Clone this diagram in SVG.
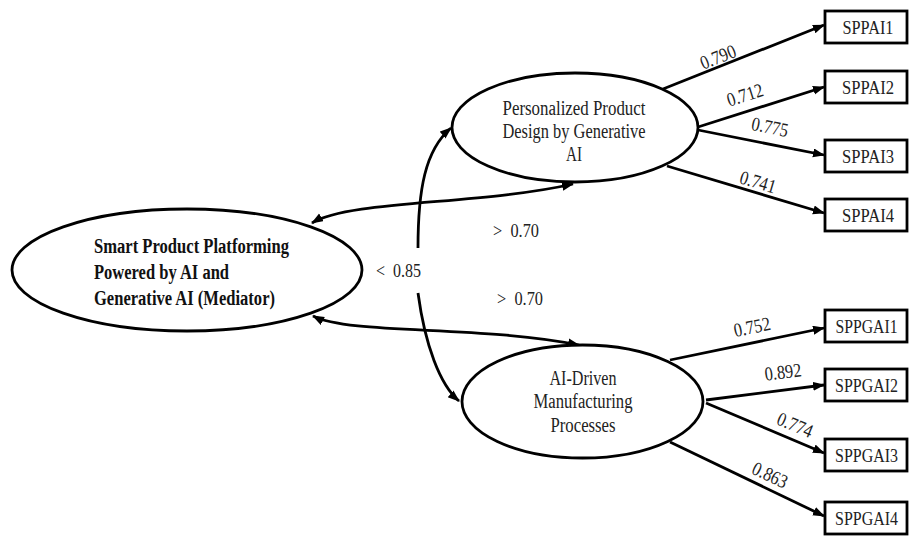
<svg xmlns="http://www.w3.org/2000/svg" width="909" height="536" viewBox="0 0 909 536">
<style>
.sh{fill:#fff;stroke:#000;stroke-width:2.8}
.ln{fill:none;stroke:#000;stroke-width:2.8}
text{font-family:'Liberation Serif','Times New Roman',serif;fill:#222}
.t{font-size:20px}
.n{font-size:19.5px}
.b{font-size:20px;font-weight:bold;fill:#111}
.bx{font-size:19px;text-anchor:middle}
.c{text-anchor:middle}
</style>
<defs>
<marker id="ah" markerUnits="userSpaceOnUse" markerWidth="12" markerHeight="10" refX="11" refY="4.5" orient="auto-start-reverse">
<path d="M0,0 L12,4.5 L0,9 z" fill="#000"/>
</marker>
</defs>
<rect width="909" height="536" fill="#fff"/>
<g id="connectors">
<path class="ln" d="M663,89 L824,25" marker-end="url(#ah)"/>
<path class="ln" d="M698,127 L824,87" marker-end="url(#ah)"/>
<path class="ln" d="M698,130 L824,155" marker-end="url(#ah)"/>
<path class="ln" d="M667,166 L824,213" marker-end="url(#ah)"/>
<path class="ln" d="M670,360 L824,328" marker-end="url(#ah)"/>
<path class="ln" d="M706,400 L824,385" marker-end="url(#ah)"/>
<path class="ln" d="M706,403 L824,453" marker-end="url(#ah)"/>
<path class="ln" d="M670,442 L824,516" marker-end="url(#ah)"/>
<path class="ln" d="M312,223 C350,200 480,205 573,184" marker-start="url(#ah)" marker-end="url(#ah)"/>
<path class="ln" d="M313,316 C350,335 480,325 579,345" marker-start="url(#ah)" marker-end="url(#ah)"/>
<path class="ln" d="M418,248 C418,190 425,150 451,128" marker-end="url(#ah)"/>
<path class="ln" d="M418,293 C425,345 440,385 459,401" marker-end="url(#ah)"/>
<text class="n c" transform="translate(718,57) rotate(-21.6)" y="6.5" textLength="37" lengthAdjust="spacingAndGlyphs">0.790</text>
<text class="n c" transform="translate(745,95) rotate(-17.5)" y="6.5" textLength="37" lengthAdjust="spacingAndGlyphs">0.712</text>
<text class="n c" transform="translate(770,127) rotate(11.5)" y="6.5" textLength="37" lengthAdjust="spacingAndGlyphs">0.775</text>
<text class="n c" transform="translate(758,182) rotate(16.6)" y="6.5" textLength="37" lengthAdjust="spacingAndGlyphs">0.741</text>
<text class="n c" transform="translate(752,327) rotate(-11.7)" y="6.5" textLength="37" lengthAdjust="spacingAndGlyphs">0.752</text>
<text class="n c" transform="translate(783,372) rotate(-7.2)" y="6.5" textLength="37" lengthAdjust="spacingAndGlyphs">0.892</text>
<text class="n c" transform="translate(795,425) rotate(22.8)" y="6.5" textLength="37" lengthAdjust="spacingAndGlyphs">0.774</text>
<text class="n c" transform="translate(770,475) rotate(25.5)" y="6.5" textLength="37" lengthAdjust="spacingAndGlyphs">0.863</text>
<text class="n" x="376" y="277" xml:space="preserve" textLength="45" lengthAdjust="spacingAndGlyphs">&lt;  0.85</text>
<text class="n" x="493" y="237" xml:space="preserve" textLength="46" lengthAdjust="spacingAndGlyphs">&gt;  0.70</text>
<text class="n" x="497" y="305" xml:space="preserve" textLength="46" lengthAdjust="spacingAndGlyphs">&gt;  0.70</text>
</g>
<g id="mediator">
<ellipse class="sh" cx="187" cy="270" rx="175" ry="61"/>
<text class="b" x="94" y="253" textLength="195" lengthAdjust="spacingAndGlyphs">Smart Product Platforming</text>
<text class="b" x="94" y="279" textLength="135" lengthAdjust="spacingAndGlyphs">Powered by AI and</text>
<text class="b" x="94" y="305" textLength="181" lengthAdjust="spacingAndGlyphs">Generative AI (Mediator)</text>
</g>
<g id="personalized">
<ellipse class="sh" cx="575" cy="127.5" rx="123" ry="54.5"/>
<text class="t c" x="574" y="115" textLength="143" lengthAdjust="spacingAndGlyphs">Personalized Product</text>
<text class="t c" x="574" y="138" textLength="143" lengthAdjust="spacingAndGlyphs">Design by Generative</text>
<text class="t c" x="574" y="161" textLength="16" lengthAdjust="spacingAndGlyphs">AI</text>
</g>
<g id="manufacturing">
<ellipse class="sh" cx="582.5" cy="401.5" rx="120.5" ry="56.5"/>
<text class="t c" x="583" y="385" textLength="67" lengthAdjust="spacingAndGlyphs">AI-Driven</text>
<text class="t c" x="583" y="408" textLength="99" lengthAdjust="spacingAndGlyphs">Manufacturing</text>
<text class="t c" x="583" y="432" textLength="65" lengthAdjust="spacingAndGlyphs">Processes</text>
</g>
<g id="SPPAI1"><rect class="sh" x="825" y="11" width="82" height="32"/><text class="bx" x="868" y="33.5" textLength="51" lengthAdjust="spacingAndGlyphs">SPPAI1</text></g>
<g id="SPPAI2"><rect class="sh" x="825" y="71" width="82" height="32"/><text class="bx" x="868" y="93.5" textLength="52" lengthAdjust="spacingAndGlyphs">SPPAI2</text></g>
<g id="SPPAI3"><rect class="sh" x="825" y="140" width="82" height="32"/><text class="bx" x="868" y="162.5" textLength="52" lengthAdjust="spacingAndGlyphs">SPPAI3</text></g>
<g id="SPPAI4"><rect class="sh" x="825" y="199" width="82" height="32"/><text class="bx" x="868" y="221.5" textLength="52" lengthAdjust="spacingAndGlyphs">SPPAI4</text></g>
<g id="SPPGAI1"><rect class="sh" x="825" y="310" width="82" height="32"/><text class="bx" x="866.5" y="332.5" textLength="62" lengthAdjust="spacingAndGlyphs">SPPGAI1</text></g>
<g id="SPPGAI2"><rect class="sh" x="825" y="369" width="82" height="32"/><text class="bx" x="866.5" y="391.5" textLength="63" lengthAdjust="spacingAndGlyphs">SPPGAI2</text></g>
<g id="SPPGAI3"><rect class="sh" x="825" y="439" width="82" height="32"/><text class="bx" x="866.5" y="461.5" textLength="63" lengthAdjust="spacingAndGlyphs">SPPGAI3</text></g>
<g id="SPPGAI4"><rect class="sh" x="825" y="502" width="82" height="32"/><text class="bx" x="866.5" y="524.5" textLength="63" lengthAdjust="spacingAndGlyphs">SPPGAI4</text></g>
</svg>
